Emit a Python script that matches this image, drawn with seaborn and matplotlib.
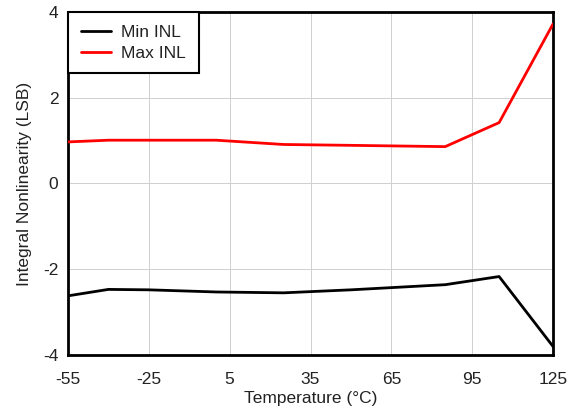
import matplotlib
matplotlib.use("Agg")
import matplotlib.pyplot as plt
import seaborn as sns
import pandas as pd

# Temperature sweep (°C) and measured INL extremes (LSB)
temperature = [-55, -40, -25, -10, 0, 25, 50, 85, 105, 125]
min_inl = [-2.62, -2.47, -2.48, -2.51, -2.53, -2.55, -2.48, -2.36, -2.17, -3.80]
max_inl = [0.97, 1.01, 1.01, 1.01, 1.01, 0.91, 0.89, 0.86, 1.42, 3.72]

series_names = ["Min INL", "Max INL"]
series_colors = ["#000000", "#ff0000"]

x_ticks = [-55, -25, 5, 35, 65, 95, 125]
y_ticks = [-4, -2, 0, 2, 4]

df = pd.concat([
    pd.DataFrame({"Temperature": temperature, "INL": min_inl, "Series": series_names[0]}),
    pd.DataFrame({"Temperature": temperature, "INL": max_inl, "Series": series_names[1]}),
])

sns.set_theme(style="white")
plt.rcParams["font.family"] = ["Liberation Sans", "DejaVu Sans"]

fig = plt.figure(figsize=(5.78, 4.09), dpi=100)
ax = fig.add_axes([68 / 578, 1 - 355 / 409, (553 - 68) / 578, (355 - 12) / 409])

sns.lineplot(data=df, x="Temperature", y="INL", hue="Series",
             palette=dict(zip(series_names, series_colors)),
             linewidth=2, ax=ax, zorder=3)

ax.set_xlim(-55, 125)
ax.set_ylim(-4, 4)
ax.set_xticks(x_ticks)
ax.set_yticks(y_ticks)
ax.set_xticklabels([str(v) for v in x_ticks])
ax.set_yticklabels([str(v) for v in y_ticks])
ax.tick_params(axis="x", length=0, pad=12, labelsize=12.5, labelcolor="#222222")
ax.tick_params(axis="y", length=0, pad=7, labelsize=12.5, labelcolor="#222222")
ax.grid(True, color="#d0d0d0", linewidth=0.7)
ax.set_axisbelow(True)
for s in ax.spines.values():
    s.set_color("black")
    s.set_linewidth(2)

ax.set_xlabel("Temperature (°C)", fontsize=12.5, color="#222222", labelpad=3)
ax.set_ylabel("Integral Nonlinearity (LSB)", fontsize=12.5, color="#222222", labelpad=8)

leg = ax.legend(loc="upper left", borderaxespad=0, fontsize=12.5, frameon=True,
                fancybox=False, handlelength=1.75, borderpad=0.72, labelspacing=0.35,
                handletextpad=0.6)
leg.get_frame().set_edgecolor("black")
leg.get_frame().set_linewidth(1.5)
leg.get_frame().set_alpha(1)
leg.set_title(None)
for t in leg.get_texts():
    t.set_color("#222222")

fig.savefig("out.png", dpi=100)
